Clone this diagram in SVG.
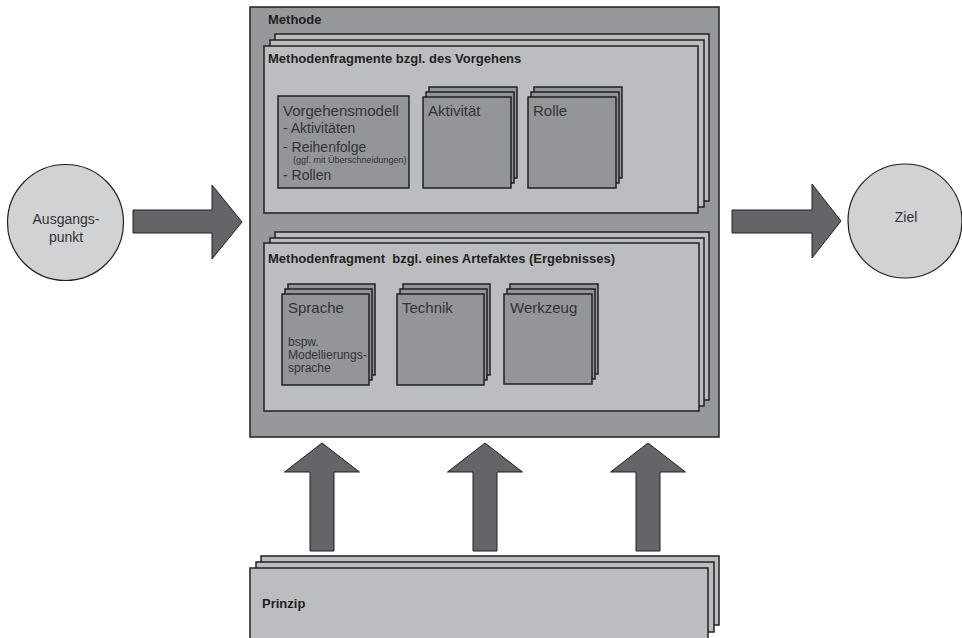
<svg xmlns="http://www.w3.org/2000/svg" width="962" height="638" viewBox="0 0 962 638">
<style>
  .frame { fill: #97989b; stroke: #231f20; stroke-width: 1.5; }
  .panel { fill: #bcbdc0; stroke: #231f20; stroke-width: 1.5; }
  .card { fill: #949598; stroke: #231f20; stroke-width: 1.5; }
  .circle { fill: #d1d2d4; stroke: #231f20; stroke-width: 1.2; }
  .arrow { fill: #646569; stroke: #231f20; stroke-width: 1; }
  .title { font-family: "Liberation Sans", Arial, sans-serif; font-weight: bold; font-size: 13px; fill: #231f20; }
  .lbl { font-family: "Liberation Sans", Arial, sans-serif; font-size: 15px; fill: #333335; }
  .item { font-family: "Liberation Sans", Arial, sans-serif; font-size: 14px; fill: #333335; }
  .small { font-family: "Liberation Sans", Arial, sans-serif; font-size: 9px; fill: #333335; }
  .note { font-family: "Liberation Sans", Arial, sans-serif; font-size: 12px; fill: #333335; }
  .ctext { font-family: "Liberation Sans", Arial, sans-serif; font-size: 14px; fill: #333335; text-anchor: middle; }
</style>

<g id="ausgangspunkt">
  <circle class="circle" cx="65.5" cy="222.5" r="58"/>
  <text class="ctext" x="66" y="224">Ausgangs-</text>
  <text class="ctext" x="66" y="242">punkt</text>
</g>

<g id="ziel">
  <circle class="circle" cx="905" cy="221" r="57"/>
  <text class="ctext" x="906" y="222">Ziel</text>
</g>

<g id="methode">
  <rect class="frame" x="250" y="7" width="469" height="430"/>
  <text class="title" x="268" y="24">Methode</text>
</g>

<g id="fragment-vorgehen">
  <rect class="panel" x="275" y="34" width="434" height="167"/>
  <rect class="panel" x="270" y="40" width="434" height="167"/>
  <rect class="panel" x="264" y="46" width="434" height="167"/>
  <text class="title" x="268" y="63">Methodenfragmente bzgl. des Vorgehens</text>
</g>

<g id="vorgehensmodell">
  <rect class="card" x="278" y="96" width="131" height="92"/>
  <text class="lbl" x="283" y="116">Vorgehensmodell</text>
  <text class="item" x="283" y="133">- Aktivitäten</text>
  <text class="item" x="283" y="152">- Reihenfolge</text>
  <text class="small" x="293" y="163">(ggf. mit Überschneidungen)</text>
  <text class="item" x="283" y="180">- Rollen</text>
</g>

<g id="aktivitaet">
  <rect class="card" x="429" y="87" width="88" height="91"/>
  <rect class="card" x="426" y="92" width="88" height="91"/>
  <rect class="card" x="423" y="97" width="88" height="91"/>
  <text class="lbl" x="428" y="116">Aktivität</text>
</g>

<g id="rolle">
  <rect class="card" x="534" y="87" width="88" height="91"/>
  <rect class="card" x="531" y="92" width="88" height="91"/>
  <rect class="card" x="528" y="97" width="88" height="91"/>
  <text class="lbl" x="533" y="116">Rolle</text>
</g>

<g id="fragment-artefakt">
  <rect class="panel" x="275" y="232" width="434" height="168"/>
  <rect class="panel" x="270" y="238" width="434" height="168"/>
  <rect class="panel" x="264" y="243" width="435" height="168"/>
  <text class="title" x="268" y="263" xml:space="preserve">Methodenfragment  bzgl. eines Artefaktes (Ergebnisses)</text>
</g>

<g id="sprache">
  <rect class="card" x="288" y="284" width="87" height="91"/>
  <rect class="card" x="285" y="289" width="87" height="91"/>
  <rect class="card" x="282" y="294" width="87" height="91"/>
  <text class="lbl" x="288" y="313">Sprache</text>
  <text class="note" x="288" y="346">bspw.</text>
  <text class="note" x="288" y="359">Modellierungs-</text>
  <text class="note" x="288" y="372">sprache</text>
</g>

<g id="technik">
  <rect class="card" x="403" y="284" width="87" height="91"/>
  <rect class="card" x="400" y="289" width="87" height="91"/>
  <rect class="card" x="397" y="294" width="87" height="91"/>
  <text class="lbl" x="402" y="313">Technik</text>
</g>

<g id="werkzeug">
  <rect class="card" x="510" y="284" width="88" height="90"/>
  <rect class="card" x="507" y="289" width="88" height="90"/>
  <rect class="card" x="504" y="294" width="88" height="90"/>
  <text class="lbl" x="510" y="313">Werkzeug</text>
</g>

<g id="prinzip">
  <rect class="panel" x="261" y="556" width="458" height="69"/>
  <rect class="panel" x="256" y="562" width="458" height="70"/>
  <rect class="panel" x="250" y="568" width="458" height="74"/>
  <text class="title" x="262" y="608">Prinzip</text>
</g>

<g id="connectors">
  <polygon class="arrow" points="133,210 212,210 212,185 242,222 212,259 212,233 133,233"/>
  <polygon class="arrow" points="732,210 812,210 812,184 841,221 812,258 812,233 732,233"/>
  <polygon class="arrow" points="322,443 359.5,472 334,472 334,551 310,551 310,472 284.5,472"/>
  <polygon class="arrow" points="485,443 522.5,472 497,472 497,551 473,551 473,472 447.5,472"/>
  <polygon class="arrow" points="648,443 685.5,472 660,472 660,551 636,551 636,472 610.5,472"/>
</g>
</svg>
